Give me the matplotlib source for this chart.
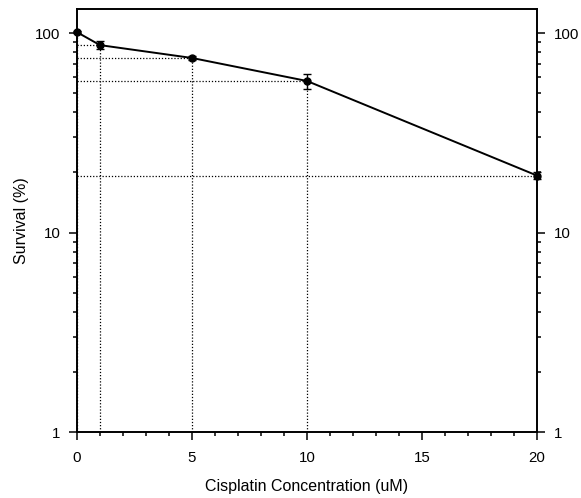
import matplotlib
matplotlib.use("Agg")
import matplotlib.pyplot as plt
from matplotlib.ticker import LogLocator, FixedLocator, NullFormatter, FuncFormatter

plt.rcParams['font.family'] = ['Liberation Sans', 'DejaVu Sans']

# Survival after cisplatin exposure
conc = [0, 1, 5, 10, 20]
survival = [101, 87, 75, 57.5, 19.3]
err = [1.5, 4, 1.5, 5, 0.8]

fig = plt.figure(figsize=(5.81, 4.98), dpi=100)
ax = fig.add_axes([77 / 581, (498 - 432) / 498, (537 - 77) / 581, (432 - 9) / 498])

# Dotted guide lines from each point to the axes
for x, y in zip(conc, survival):
    ax.plot([0, x], [y, y], ls=(0, (1, 1.5)), color='black', lw=0.9, zorder=1)
    ax.plot([x, x], [1, y], ls=(0, (1, 1.5)), color='black', lw=0.9, zorder=1)

line = ax.errorbar(conc, survival, yerr=err, fmt='-o', color='black', lw=1.4,
                   ms=5, capsize=3, elinewidth=1, capthick=1, zorder=3)
for art in line.get_children():
    art.set_clip_on(False)

ax.set_yscale('log')
ax.set_xlim(0, 20)
ax.set_ylim(1, 132)

ax.xaxis.set_major_locator(FixedLocator([0, 5, 10, 15, 20]))
ax.xaxis.set_minor_locator(FixedLocator(range(0, 21)))
ax.yaxis.set_major_locator(LogLocator(base=10, numticks=5))
ax.yaxis.set_minor_locator(LogLocator(base=10, subs=range(2, 10), numticks=20))
ax.yaxis.set_major_formatter(FuncFormatter(lambda v, p: f"{v:g}"))
ax.yaxis.set_minor_formatter(NullFormatter())

ax.tick_params(axis='both', which='both', direction='out', width=1.1, color='black',
               labelsize=10.8)
ax.tick_params(axis='y', which='both', left=True, right=True, labelleft=True, labelright=True)
ax.tick_params(axis='y', which='major', length=6, pad=6)
ax.tick_params(axis='y', which='minor', length=3)
ax.tick_params(axis='x', which='major', length=6, pad=8)
ax.tick_params(axis='x', which='minor', length=3)

for s in ax.spines.values():
    s.set_linewidth(1.4)

ax.set_xlabel('Cisplatin Concentration (uM)', fontsize=11.5, labelpad=10)
ax.set_ylabel('Survival (%)', fontsize=11.5, labelpad=4)

fig.savefig('out.png', dpi=100)
